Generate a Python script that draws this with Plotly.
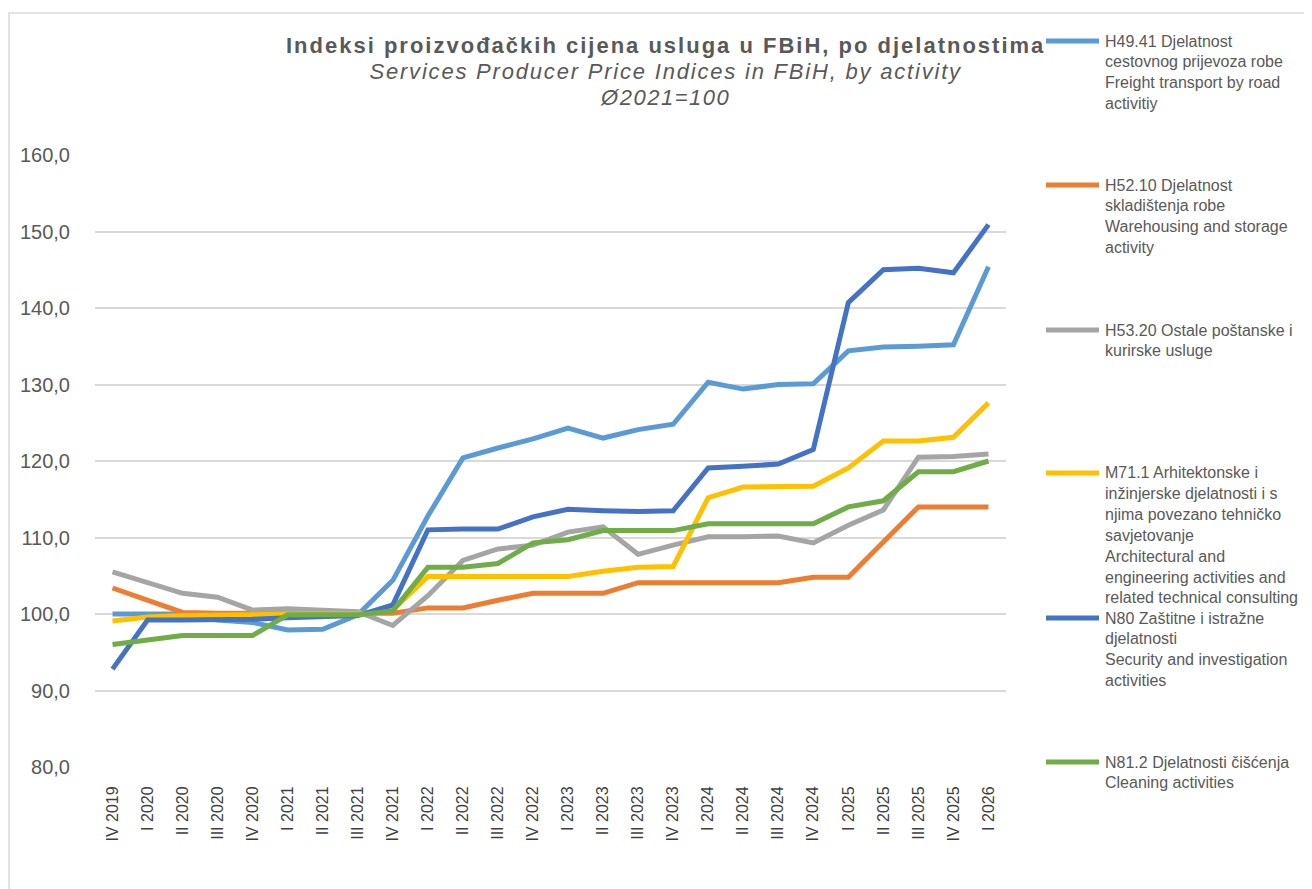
import plotly.graph_objects as go

categories = ["IV 2019", "I 2020", "II 2020", "III 2020", "IV 2020", "I 2021", "II 2021", "III 2021",
              "IV 2021", "I 2022", "II 2022", "III 2022", "IV 2022", "I 2023", "II 2023", "III 2023",
              "IV 2023", "I 2024", "II 2024", "III 2024", "IV 2024", "I 2025", "II 2025", "III 2025",
              "IV 2025", "I 2026"]

h4941 = [100.0, 100.0, 100.0, 99.2, 98.9, 97.9, 98.0, 99.9, 104.4, 112.8, 120.4, 121.7, 122.9, 124.3,
         123.0, 124.1, 124.8, 130.3, 129.4, 130.0, 130.1, 134.4, 134.9, 135.0, 135.2, 145.4]
h5210 = [103.4, 101.8, 100.2, 100.1, 100.1, 100.0, 100.0, 100.0, 100.1, 100.8, 100.8, 101.8, 102.7, 102.7,
         102.7, 104.1, 104.1, 104.1, 104.1, 104.1, 104.8, 104.8, 109.4, 114.0, 114.0, 114.0]
h5320 = [105.5, 104.1, 102.7, 102.2, 100.5, 100.7, 100.5, 100.3, 98.5, 102.4, 107.0, 108.5, 109.0, 110.7,
         111.4, 107.8, 109.0, 110.1, 110.1, 110.2, 109.3, 111.6, 113.6, 120.5, 120.6, 120.9]
m711 = [99.1, 99.6, 99.8, 99.8, 99.9, 100.0, 100.0, 100.0, 100.5, 104.9, 104.9, 104.9, 104.9, 104.9,
        105.6, 106.1, 106.2, 115.2, 116.6, 116.6, 116.7, 119.1, 122.6, 122.6, 123.1, 127.6]
n80 = [92.8, 99.2, 99.2, 99.2, 99.3, 99.5, 99.6, 99.8, 101.2, 111.0, 111.1, 111.1, 112.7, 113.7,
       113.5, 113.4, 113.5, 119.1, 119.3, 119.6, 121.5, 140.7, 145.0, 145.2, 144.6, 150.9]
n812 = [96.0, 96.6, 97.2, 97.2, 97.2, 99.9, 99.9, 99.9, 100.4, 106.1, 106.1, 106.6, 109.3, 109.7,
        110.9, 110.9, 110.9, 111.8, 111.8, 111.8, 111.8, 114.0, 114.8, 118.6, 118.6, 120.0]

series_names = [
    ["H49.41 Djelatnost", "cestovnog prijevoza robe", "Freight transport by road", "activitiy"],
    ["H52.10 Djelatnost", "skladištenja robe", "Warehousing and storage", "activity"],
    ["H53.20 Ostale poštanske i", "kurirske usluge"],
    ["M71.1 Arhitektonske i", "inžinjerske djelatnosti i s", "njima povezano tehničko", "savjetovanje",
     "Architectural and", "engineering activities and", "related technical consulting"],
    ["N80 Zaštitne i istražne", "djelatnosti", "Security and investigation", "activities"],
    ["N81.2 Djelatnosti čišćenja", "Cleaning activities"],
]
series_values = [h4941, h5210, h5320, m711, n80, n812]
colors = ["#5B9BD5", "#ED7D31", "#A5A5A5", "#FFC000", "#4472C4", "#70AD47"]

y_ticks = [80, 90, 100, 110, 120, 130, 140, 150, 160]
y_ticktext = [f"{v:.1f}".replace(".", ",") for v in y_ticks]

title_bs = "Indeksi proizvođačkih cijena usluga u FBiH, po djelatnostima"
title_en = "Services Producer Price Indices in FBiH, by activity"
title_base = "Ø2021=100"

OFF = 8  # page body margin in the browser
W_FIG, H_FIG = 1312 - OFF, 889 - OFF
L, R_EDGE, T, B = 95 - OFF, 1006 - OFF, 155 - OFF, 767 - OFF
PW, PH = R_EDGE - L, B - T


def xp(px):
    return (px - OFF - L) / PW


def yp(py):
    return (B - (py - OFF)) / PH


fig = go.Figure()
for name, vals, col in zip(series_names, series_values, colors):
    fig.add_trace(go.Scatter(x=categories, y=vals, mode="lines", name=name[0],
                             line=dict(color=col, width=5), showlegend=False))

TXT = "#595959"
FONT = "Arial, Liberation Sans, sans-serif"

annotations = []
shapes = []

# title (one text block, three lines)
title_txt = (f"<span style='font-size:22px;letter-spacing:2px'><b>{title_bs}</b></span><br>"
             f"<span style='font-size:22px;letter-spacing:1.8px'><i>{title_en}</i></span><br>"
             f"<span style='font-size:22px;letter-spacing:1.5px'><i>{title_base}</i></span>")
annotations.append(dict(text=title_txt, x=xp(665), y=yp(71), xref="paper", yref="paper",
                        xanchor="center", yanchor="middle", showarrow=False, align="center",
                        font=dict(size=20, color=TXT, family=FONT)))

# legend built from annotations
legend_y = [41, 185, 330, 473, 618, 762]
line_h = 20.8
for name, col, y0 in zip(series_names, colors, legend_y):
    shapes.append(dict(type="line", xref="paper", yref="paper", x0=xp(1046), x1=xp(1099),
                       y0=yp(y0), y1=yp(y0), line=dict(color=col, width=5)))
    for i, ln in enumerate(name):
        annotations.append(dict(text=ln, x=xp(1103), y=yp(y0 + i * line_h), xref="paper", yref="paper",
                                xanchor="left", yanchor="middle", showarrow=False,
                                font=dict(size=16, color=TXT, family=FONT)))

# chart border
shapes.append(dict(type="rect", xref="paper", yref="paper", x0=xp(9), x1=xp(1340),
                   y0=yp(920), y1=yp(13), line=dict(color="#D9D9D9", width=1.5), layer="below"))

fig.update_layout(
    width=W_FIG, height=H_FIG, autosize=False,
    margin=dict(l=L, r=W_FIG - R_EDGE, t=T, b=H_FIG - B, pad=0),
    paper_bgcolor="white", plot_bgcolor="white",
    annotations=annotations, shapes=shapes,
    font=dict(family=FONT, color=TXT),
    xaxis=dict(type="category", range=[-0.5, len(categories) - 0.5], tickangle=-90,
               showgrid=False, showline=False, zeroline=False,
               ticks="outside", ticklen=12, tickcolor="rgba(0,0,0,0)",
               tickfont=dict(size=16, color="#404040", family=FONT)),
    yaxis=dict(range=[80, 160], tickvals=y_ticks, ticktext=y_ticktext,
               showgrid=True, gridcolor="#D9D9D9", gridwidth=2, zeroline=False, showline=False,
               ticks="outside", ticklen=20, tickcolor="rgba(0,0,0,0)",
               tickfont=dict(size=20, color=TXT, family=FONT)),
)

fig.write_html("out.html")
